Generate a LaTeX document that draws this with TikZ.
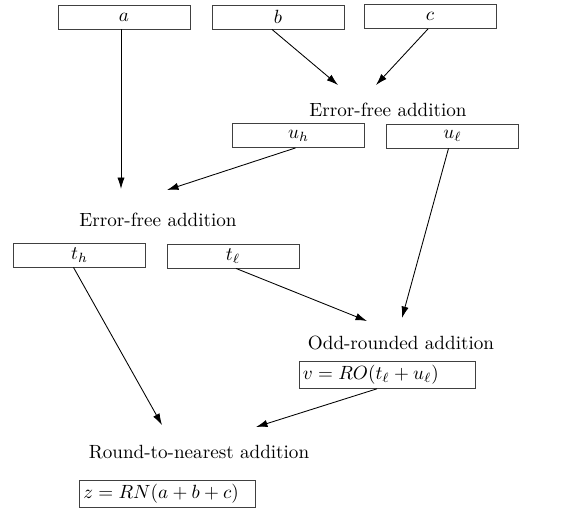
\documentclass[tikz,border=0pt]{standalone}
\usetikzlibrary{arrows.meta,calc}
\begin{document}
\begin{tikzpicture}[x=0.523pt,y=-0.523pt,
  valbox/.style={draw=black!75, minimum width=69pt, minimum height=12.6pt, inner sep=0pt},
  resbox/.style={draw=black!75, text width=88pt, minimum height=13.3pt, inner sep=2pt, align=left},
  oplabel/.style={inner sep=0pt},
  conn/.style={-{Latex[length=6pt,width=3.8pt]}, line width=0.45pt}]
\useasboundingbox (0,0) rectangle (569,508);
\node[valbox] (a) at (124,17) {$a$};
\node[valbox] (b) at (278,17) {$b$};
\node[valbox] (c) at (430,16.5) {$c$};
\node[oplabel] (op1) at (388,110) {Error-free addition};
\node[valbox] (uh) at (298.5,135.5) {$u_h$};
\node[valbox] (ul) at (452.5,136) {$u_\ell$};
\node[oplabel] (op2) at (158,220) {Error-free addition};
\node[valbox] (th) at (79.5,255) {$t_h$};
\node[valbox] (tl) at (233,256) {$t_\ell$};
\node[oplabel] (op3) at (401,343) {Odd-rounded addition};
\node[resbox] (v) at (387,375) {$v=RO(t_\ell+u_\ell)$};
\node[oplabel] (op4) at (199,452) {Round-to-nearest addition};
\node[resbox] (z) at (167.5,493.5) {$z=RN(a+b+c)$};
\coordinate (ea) at (121,189);
\coordinate (eb) at (338,85);
\coordinate (ec) at (376,85);
\coordinate (euh) at (167,190);
\coordinate (eul) at (402,318);
\coordinate (etl) at (367,321);
\coordinate (eth) at (162,425);
\coordinate (ev) at (256,427);
\draw[conn] ($(a.south)+(-3,0)$) -- (ea);
\draw[conn] ($(b.south)+(-6,0)$) -- (eb);
\draw[conn] ($(c.south)+(-2,0)$) -- (ec);
\draw[conn] ($(uh.south)+(-3,0)$) -- (euh);
\draw[conn] ($(ul.south)+(-4,0)$) -- (eul);
\draw[conn] ($(tl.south)+(3,0)$) -- (etl);
\draw[conn] ($(th.south)+(-6,0)$) -- (eth);
\draw[conn] ($(v.south)+(-10,0)$) -- (ev);
\end{tikzpicture}
\end{document}
